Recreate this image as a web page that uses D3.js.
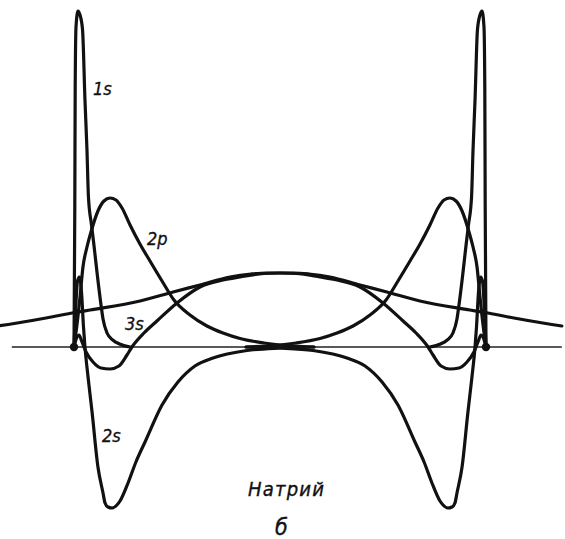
<!DOCTYPE html>
<html>
<head>
<meta charset="utf-8">
<script src="https://cdn.jsdelivr.net/npm/d3@7"></script>
<style>
  html, body { margin: 0; padding: 0; background: #fff; }
  svg { display: block; }
  .lbl { font-family: "Liberation Sans Narrow", "DejaVu Sans Condensed", "Liberation Sans", sans-serif; font-style: italic; fill: #111; stroke: #111; stroke-width: 0.35; }
</style>
</head>
<body>
<svg id="chart" width="565" height="539"></svg>
<script>
// Radial functions P(r) of the sodium atom orbitals, r in Å from the nucleus,
// amplitude in arbitrary units. Each atom's function is drawn toward its partner.
const bondLength = 3.08;

const orb1s = [
  [0, 0], [0.006, 1.4], [0.009, 2.6], [0.015, 3.2], [0.030, 3.36], [0.045, 3.32],
  [0.064, 3.17], [0.082, 2.47], [0.097, 1.97], [0.108, 1.50], [0.131, 1.22],
  [0.149, 1.02], [0.176, 0.70], [0.202, 0.42], [0.217, 0.28], [0.247, 0.14],
  [0.290, 0.07], [0.340, 0.03], [0.420, 0]
];

const orb2s = [
  [0, 0], [0.015, 0.45], [0.026, 0.66], [0.041, 0.70], [0.056, 0.55], [0.071, 0.2],
  [0.082, 0], [0.105, -0.3], [0.135, -0.65], [0.179, -1.2], [0.217, -1.46],
  [0.232, -1.56], [0.254, -1.60], [0.284, -1.61], [0.321, -1.58], [0.344, -1.54],
  [0.404, -1.36], [0.463, -1.15], [0.531, -0.95], [0.658, -0.58], [0.777, -0.35],
  [0.904, -0.19], [1.039, -0.11], [1.293, -0.035], [1.540, -0.01], [1.794, 0]
];

const orb2p = [
  [0, 0], [0.022, 0.22], [0.045, 0.5], [0.067, 0.8], [0.097, 1.0], [0.127, 1.15],
  [0.179, 1.36], [0.224, 1.46], [0.269, 1.49], [0.314, 1.47], [0.359, 1.39],
  [0.419, 1.22], [0.493, 1.03], [0.568, 0.86], [0.658, 0.66], [0.747, 0.47],
  [0.867, 0.32], [0.994, 0.21], [1.114, 0.14], [1.241, 0.085], [1.420, 0.04],
  [1.540, 0.02], [1.794, 0]
];

const orb3s = [
  [0, 0], [0.022, 0.1], [0.037, 0.12], [0.060, 0.05], [0.090, -0.05], [0.142, -0.15],
  [0.202, -0.21], [0.269, -0.22], [0.336, -0.19], [0.396, -0.08], [0.433, 0],
  [0.523, 0.14], [0.620, 0.26], [0.770, 0.44], [0.942, 0.60], [1.114, 0.67],
  [1.241, 0.70], [1.420, 0.735], [1.540, 0.74], [1.644, 0.74], [1.756, 0.73],
  [1.913, 0.70], [2.138, 0.62], [2.339, 0.55], [2.586, 0.46], [2.960, 0.37],
  [3.072, 0.345], [3.289, 0.29], [3.572, 0.225], [3.647, 0.21]
];

const orbitals = [orb1s, orb2s, orb2p, orb3s];
const orbitalLabels = ["1s", "2s", "2p", "3s"];
const title = "Натрий";
const panel = "б";

const svg = d3.select("#chart");

const x = d3.scaleLinear().domain([0, bondLength]).range([74, 486]);
const y = d3.scaleLinear().domain([0, 1]).range([347, 247]);

const line = d3.line()
  .x(d => d[0])
  .y(d => d[1])
  .curve(d3.curveMonotoneX);

// internuclear axis
svg.append("line")
  .attr("x1", x(-0.465)).attr("x2", x(3.647))
  .attr("y1", y(0)).attr("y2", y(0))
  .attr("stroke", "#222").attr("stroke-width", 1.4);

// left atom: r measured to the right; right atom: mirrored
const atoms = [r => x(r), r => x(bondLength - r)];

atoms.forEach(pos => {
  orbitals.forEach(orb => {
    const pts = orb.map(([r, v]) => [pos(r), y(v)]).sort((a, b) => a[0] - b[0]);
    svg.append("path")
      .attr("d", line(pts))
      .attr("fill", "none")
      .attr("stroke", "#111")
      .attr("stroke-width", 3.2)
      .attr("stroke-linejoin", "round")
      .attr("stroke-linecap", "round");
  });
});

// nuclei
[0, bondLength].forEach(r => {
  svg.append("circle")
    .attr("cx", x(r)).attr("cy", y(0)).attr("r", 4.2)
    .attr("fill", "#111");
});

// curve labels
const labelPos = { "1s": [93, 95], "2p": [147, 245], "3s": [125, 330], "2s": [102, 442] };
orbitalLabels.forEach(t => {
  svg.append("text")
    .attr("class", "lbl")
    .attr("x", labelPos[t][0]).attr("y", labelPos[t][1])
    .attr("font-size", 18)
    .text(t);
});

svg.append("text")
  .attr("class", "lbl")
  .attr("x", 248).attr("y", 496)
  .attr("font-size", 20)
  .attr("letter-spacing", 1.2)
  .text(title);

svg.append("text")
  .attr("class", "lbl")
  .attr("x", 275).attr("y", 535)
  .attr("font-size", 23)
  .text(panel);
</script>
</body>
</html>
